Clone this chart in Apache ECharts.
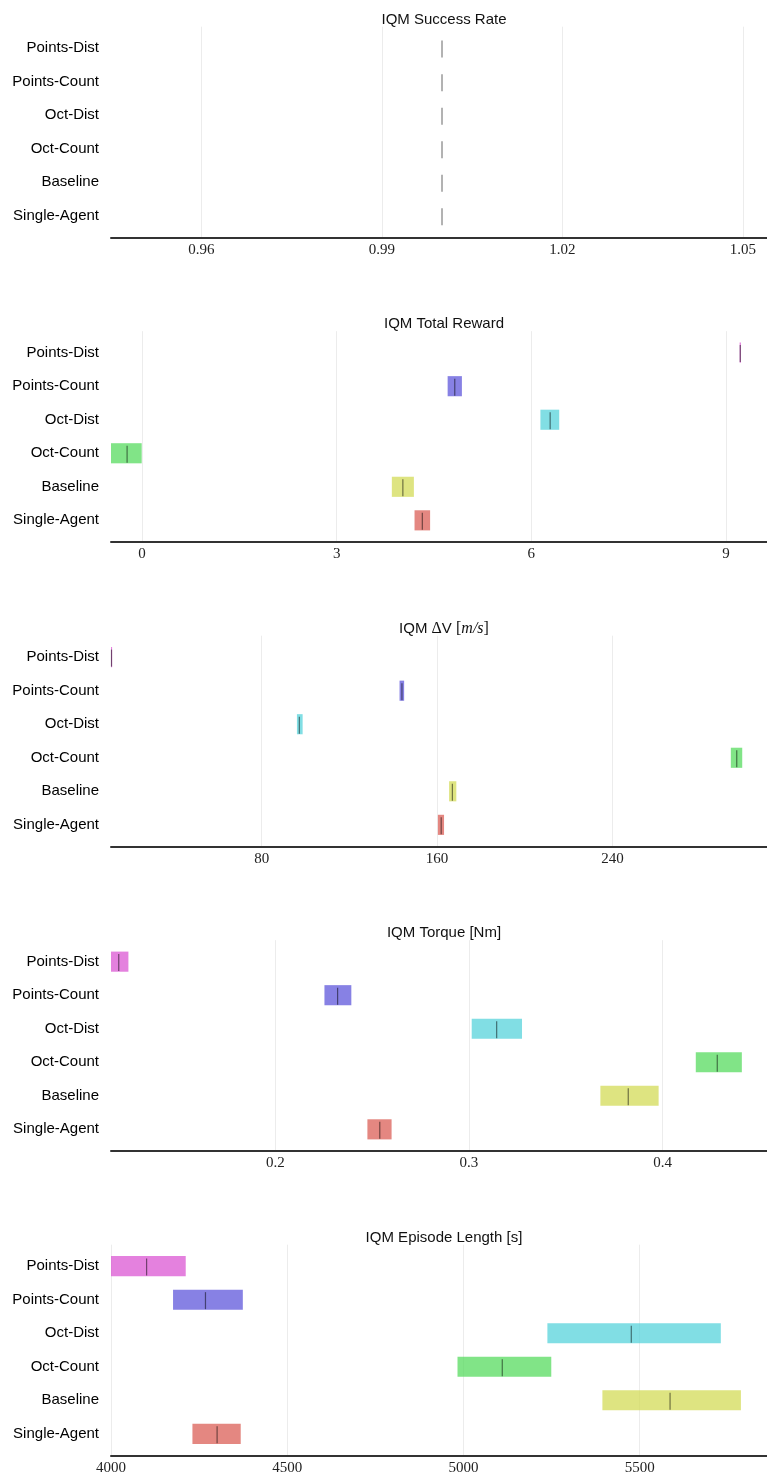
<!DOCTYPE html>
<html>
<head>
<meta charset="utf-8">
<script src="https://cdn.jsdelivr.net/npm/echarts@6/dist/echarts.min.js"></script>
<style>
  body { margin: 0; background: #fff; }
  #chart { width: 767px; height: 1478px; }
</style>
</head>
<body>
<div id="chart"></div>
<script>
// methods, bottom row first (row index 0 = Single-Agent)
var methods = ['Single-Agent', 'Baseline', 'Oct-Count', 'Oct-Dist', 'Points-Count', 'Points-Dist']
var colors = ['rgba(219,95,87,0.75)', 'rgba(211,219,87,0.75)', 'rgba(87,219,95,0.75)',
  'rgba(87,211,219,0.75)', 'rgba(95,87,219,0.75)', 'rgba(219,87,211,0.75)']

// IQM success rate: [low, high, median]
var successLow = [1, 1, 1, 1, 1, 1]
var successHigh = [1, 1, 1, 1, 1, 1]
var successMed = [1, 1, 1, 1, 1, 1]
var successTicks = [0.96, 0.99, 1.02, 1.05]

// IQM total reward
var rewardLow = [4.20, 3.85, -0.48, 6.14, 4.71, 9.21]
var rewardHigh = [4.44, 4.19, -0.005, 6.43, 4.93, 9.23]
var rewardMed = [4.32, 4.02, -0.23, 6.29, 4.82, 9.22]
var rewardTicks = [0, 3, 6, 9]

// IQM delta V
var dvLow = [160.4, 165.5, 294.0, 96.1, 142.9, 11.3]
var dvHigh = [163.2, 168.8, 299.2, 98.7, 145.0, 11.8]
var dvMed = [161.9, 167.0, 296.7, 97.2, 144.0, 11.5]
var dvTicks = [80, 160, 240]

// IQM torque
var torqueLow = [0.2475, 0.3679, 0.4172, 0.3014, 0.2253, 0.112]
var torqueHigh = [0.2600, 0.3980, 0.4410, 0.3274, 0.2392, 0.124]
var torqueMed = [0.2539, 0.3823, 0.4283, 0.3143, 0.2321, 0.119]
var torqueTicks = [0.2, 0.3, 0.4]

// IQM episode length
var lenLow = [4231, 5394, 4983, 5238, 4176, 3990]
var lenHigh = [4368, 5787, 5249, 5730, 4374, 4212]
var lenMed = [4301, 5586, 5110, 5476, 4268, 4101]
var lenTicks = [4000, 4500, 5000, 5500]

var panels = [
  { title: 'IQM Success Rate', low: successLow, high: successHigh, med: successMed, ticks: successTicks, min: 0.945, max: 1.054 },
  { title: 'IQM Total Reward', low: rewardLow, high: rewardHigh, med: rewardMed, ticks: rewardTicks, min: -0.478, max: 9.632 },
  { title: '{n|IQM }{m|Δ}{n|V }{m|[}{i|m/s}{m|]}', low: dvLow, high: dvHigh, med: dvMed, ticks: dvTicks, min: 11.3, max: 310.5 },
  { title: 'IQM Torque [Nm]', low: torqueLow, high: torqueHigh, med: torqueMed, ticks: torqueTicks, min: 0.115, max: 0.454 },
  { title: 'IQM Episode Length [s]', low: lenLow, high: lenHigh, med: lenMed, ticks: lenTicks, min: 4000, max: 5861 },
]

var BAR_H = 0.6
var PANEL_STEP = 304.5

function renderInterval(params, api) {
  var row = api.value(0)
  var lo = api.value(1)
  var hi = api.value(2)
  var med = api.value(3)
  var p0 = api.coord([lo, row])
  var p1 = api.coord([hi, row])
  var h = api.size([0, BAR_H])[1]
  var cs = params.coordSys
  var children = []
  var rect = echarts.graphic.clipRectByRect(
    { x: p0[0], y: p0[1] - h / 2, width: p1[0] - p0[0], height: h },
    { x: cs.x, y: cs.y, width: cs.width, height: cs.height }
  )
  if (rect && rect.width > 0) {
    children.push({ type: 'rect', shape: rect, style: { fill: colors[row] } })
  }
  var m0 = api.coord([med, row - 7.5 * BAR_H / 16])
  var m1 = api.coord([med, row + 6 * BAR_H / 16])
  var mx = Math.max(m0[0], cs.x + 0.5)
  children.push({
    type: 'line',
    shape: { x1: mx, y1: m0[1], x2: mx, y2: m1[1] },
    style: { stroke: 'rgba(0,0,0,0.5)', lineWidth: 1.2 },
  })
  return { type: 'group', children: children }
}

var titles = [], grids = [], xAxes = [], yAxes = [], series = []
panels.forEach(function (p, i) {
  var off = i * PANEL_STEP
  titles.push({
    text: p.title,
    left: 439,
    top: 7 + off,
    textAlign: 'center',
    textStyle: {
      fontFamily: 'Liberation Sans', fontSize: 15, fontWeight: 'normal', color: '#111',
      rich: {
        n: { fontFamily: 'Liberation Sans', fontSize: 15, color: '#111' },
        m: { fontFamily: 'Liberation Serif', fontSize: 16, color: '#111' },
        i: { fontFamily: 'Liberation Serif', fontSize: 16, fontStyle: 'italic', color: '#111' },
      },
    },
  })
  grids.push({ left: 111, right: 0, top: 26.7 + off, height: 210.6 })
  xAxes.push({
    type: 'value',
    gridIndex: i,
    min: p.min,
    max: p.max,
    axisLine: { show: true, onZero: false, lineStyle: { color: '#333', width: 2 } },
    axisTick: { show: false, customValues: p.ticks },
    axisLabel: {
      customValues: p.ticks,
      margin: 5,
      fontFamily: 'Liberation Serif',
      fontSize: 15,
      color: '#222',
      formatter: function (v) { return String(v) },
    },
    splitLine: { show: true, lineStyle: { color: '#ececec', width: 1 } },
  })
  yAxes.push({
    type: 'value',
    gridIndex: i,
    min: -0.64,
    max: 5.64,
    axisLine: { show: false },
    axisTick: { show: false, customValues: [0, 1, 2, 3, 4, 5] },
    splitLine: { show: false },
    axisLabel: {
      customValues: [0, 1, 2, 3, 4, 5],
      margin: 12,
      fontFamily: 'Liberation Sans',
      fontSize: 15,
      color: '#000',
      formatter: function (v) { return methods[Math.round(v)] },
    },
  })
  var rows = methods.map(function (m, k) {
    return [k, p.low[k], p.high[k], p.med[k]]
  })
  series.push({
    type: 'custom',
    xAxisIndex: i,
    yAxisIndex: i,
    renderItem: renderInterval,
    encode: { x: [1, 2, 3], y: 0 },
    data: rows,
    silent: true,
  })
})

var mychart = echarts.init(document.getElementById('chart'), null, { renderer: 'canvas' })
mychart.setOption({
  animation: false,
  backgroundColor: '#fff',
  title: titles,
  grid: grids,
  xAxis: xAxes,
  yAxis: yAxes,
  series: series,
})
</script>
</body>
</html>
